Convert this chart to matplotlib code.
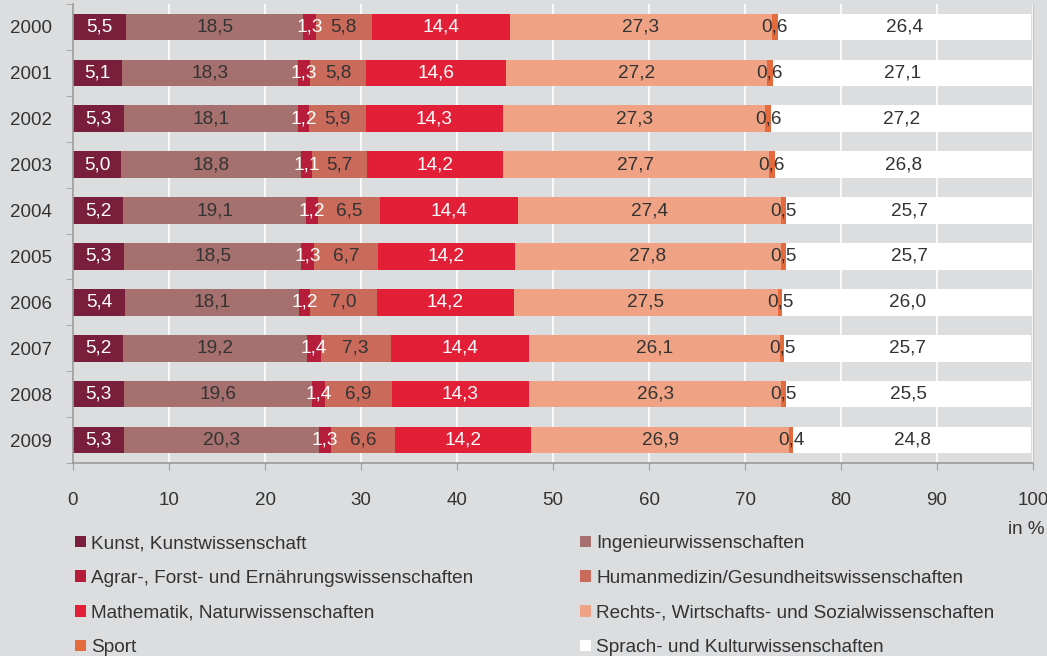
import matplotlib.pyplot as plt
import numpy as np
from matplotlib.patches import Patch

plt.rcParams['font.family'] = ['Liberation Sans', 'DejaVu Sans']

# Anteile der Fächergruppen je Jahr (in %)
jahre = ['2000', '2001', '2002', '2003', '2004', '2005', '2006', '2007', '2008', '2009']
kunst = [5.5, 5.1, 5.3, 5.0, 5.2, 5.3, 5.4, 5.2, 5.3, 5.3]
ingenieur = [18.5, 18.3, 18.1, 18.8, 19.1, 18.5, 18.1, 19.2, 19.6, 20.3]
agrar = [1.3, 1.3, 1.2, 1.1, 1.2, 1.3, 1.2, 1.4, 1.4, 1.3]
medizin = [5.8, 5.8, 5.9, 5.7, 6.5, 6.7, 7.0, 7.3, 6.9, 6.6]
mathe = [14.4, 14.6, 14.3, 14.2, 14.4, 14.2, 14.2, 14.4, 14.3, 14.2]
rechts = [27.3, 27.2, 27.3, 27.7, 27.4, 27.8, 27.5, 26.1, 26.3, 26.9]
sport = [0.6, 0.6, 0.6, 0.6, 0.5, 0.5, 0.5, 0.5, 0.5, 0.4]
sprach = [26.4, 27.1, 27.2, 26.8, 25.7, 25.7, 26.0, 25.7, 25.5, 24.8]

namen = ['Kunst, Kunstwissenschaft', 'Ingenieurwissenschaften',
         'Agrar-, Forst- und Ernährungswissenschaften',
         'Humanmedizin/Gesundheitswissenschaften',
         'Mathematik, Naturwissenschaften',
         'Rechts-, Wirtschafts- und Sozialwissenschaften',
         'Sport', 'Sprach- und Kulturwissenschaften']
farben = ['#7a1f3b', '#a5706d', '#b51d3b', '#c96a5b', '#e21f36', '#f0a384', '#e46b3d', '#ffffff']
textfarben = ['white', '#333333', 'white', '#333333', 'white', '#333333', '#333333', '#333333']

reihen = [kunst, ingenieur, agrar, medizin, mathe, rechts, sport, sprach]
hg = '#dcdddf'

fig = plt.figure(figsize=(10.47, 6.56), dpi=100, facecolor=hg)
ax = fig.add_axes([73 / 1047, 1 - 463 / 656, 960 / 1047, 459 / 656])
ax.set_facecolor(hg)

y = np.arange(len(jahre))
links = np.zeros(len(jahre))
for werte, farbe, tf in zip(reihen, farben, textfarben):
    werte = np.array(werte)
    ax.barh(y, werte, left=links, height=0.58, color=farbe, edgecolor='none', zorder=2)
    for yi, l, w in zip(y, links, werte):
        ax.text(l + w / 2, yi, f'{w:.1f}'.replace('.', ','), ha='center', va='center',
                fontsize=13.7, color=tf, zorder=3)
    links += werte

ax.set_xlim(0, 100)
ax.set_ylim(len(jahre) - 0.5, -0.5)
ax.set_xticks(np.arange(0, 101, 10))
ax.set_yticks(y)
ax.set_yticklabels(jahre)
ax.set_yticks(np.arange(-0.5, len(jahre)), minor=True)
ax.tick_params(axis='y', which='major', length=0, pad=15, labelsize=13.5, labelcolor='#333333')
ax.tick_params(axis='y', which='minor', length=5, color='#a0a0a0', direction='out')
ax.tick_params(axis='x', length=5, color='#a0a0a0', pad=16, labelsize=13.5, labelcolor='#333333')
ax.grid(axis='x', color='white', linewidth=1.2, zorder=0)
ax.set_axisbelow(True)

ax.spines['top'].set_visible(False)
ax.spines['right'].set_color('#c4c4c4')
for s in ['left', 'bottom']:
    ax.spines[s].set_color('#9a9a9a')
    ax.spines[s].set_linewidth(1.2)

fig.text(1044 / 1047, 1 - 530 / 656, 'in %', ha='right', va='center', fontsize=13.5, color='#333333')

# Legende: zwei Spalten, spaltenweise befüllt
reihenfolge = [0, 2, 4, 6, 1, 3, 5, 7]
handles = [Patch(facecolor=farben[i], edgecolor='none') for i in reihenfolge]
labels = [namen[i] for i in reihenfolge]
fig.legend(handles, labels, ncol=2, loc='upper left', bbox_to_anchor=(58 / 1047, 1 - 518 / 656),
           frameon=False, fontsize=13.7, labelcolor='#333333', handlelength=0.55, handleheight=0.55,
           handletextpad=0.3, labelspacing=0.93, columnspacing=5.6)

fig.savefig('out.png', dpi=100, facecolor=hg)
